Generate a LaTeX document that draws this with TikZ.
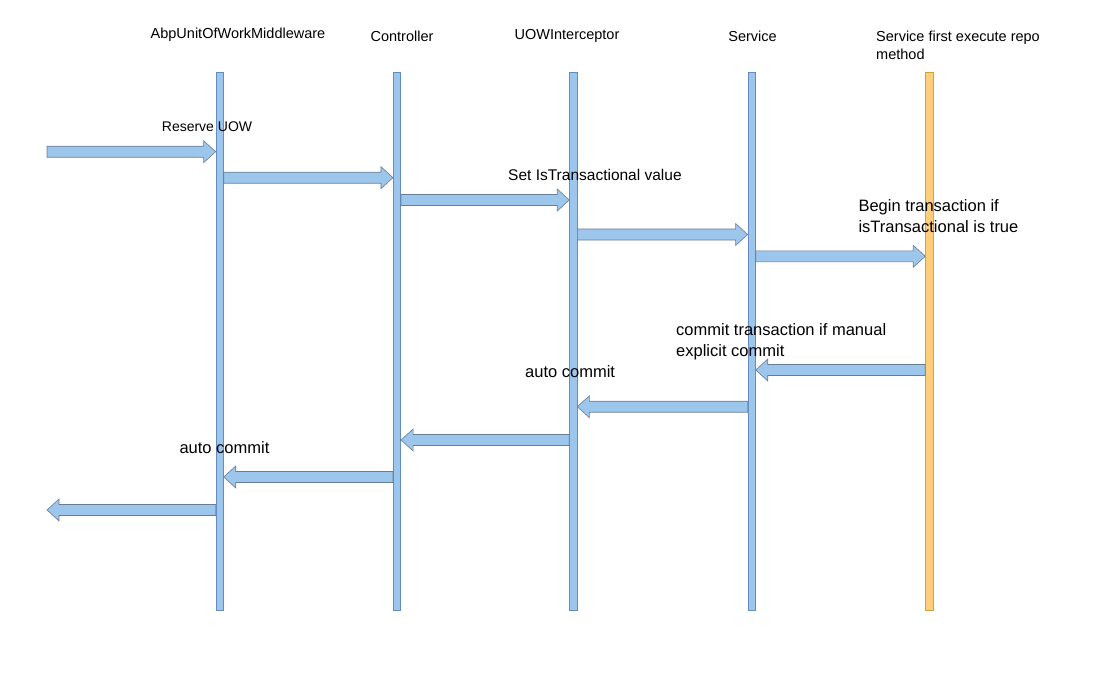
\documentclass[tikz,border=0pt]{standalone}
\usepackage{fontspec}
\setmainfont{Liberation Sans}
\usepackage{tikz}
\usetikzlibrary{calc}
\definecolor{lifeblue}{RGB}{157,198,236}
\definecolor{lifeedge}{RGB}{100,140,190}
\definecolor{arrowedge}{RGB}{105,125,145}
\definecolor{repofill}{RGB}{255,206,122}
\definecolor{repoedge}{RGB}{214,160,60}
\tikzstyle{lifeline}=[
	rectangle,
	draw=lifeedge,
	fill=lifeblue,
	line width=0.6pt,
	inner sep=0pt,
	minimum width=7.5pt,
	minimum height=538pt
]
\tikzstyle{repoline}=[
	lifeline,
	draw=repoedge,
	fill=repofill
]
\tikzstyle{msg}=[
	draw=arrowedge,
	fill=lifeblue,
	line width=0.6pt,
	line join=miter
]
\tikzstyle{head}=[
	inner sep=0pt,
	font=\fontsize{14.5pt}{18pt}\selectfont
]
\tikzstyle{lab}=[
	inner sep=0pt,
	anchor=west,
	align=left,
	font=\fontsize{15.5pt}{21.7pt}\selectfont
]
\newcommand{\blockarrow}[2]{%
	\path #1 coordinate (ta) #2 coordinate (tb) ($(tb)!12pt!(ta)$) coordinate (th);
	\draw[msg] ($(ta)+(0,5.5pt)$) -- ($(th)+(0,5.5pt)$) -- ($(th)+(0,11pt)$) -- (tb)
		-- ($(th)+(0,-11pt)$) -- ($(th)+(0,-5.5pt)$) -- ($(ta)+(0,-5.5pt)$) -- cycle;}

\begin{document}
\begin{tikzpicture}[x=1pt, y=-1pt]
\useasboundingbox (0,0) rectangle (1112,689);

\foreach \x/\lab in {219.7/mw, 397/ctl, 573.3/uow, 751.7/svc}{
    \node[lifeline] at (\x, 341.3) (\lab) {};
}
\node[repoline] at (929.3, 341.3) (repo) {};

\node[head] at (238, 35) (hmw) {AbpUnitOfWorkMiddleware};
\node[head] at (402, 36) (hctl) {Controller};
\node[head] at (567, 36) (huow) {UOWInterceptor};
\node[head] at (752.5, 36) (hsvc) {Service};
\node[head, anchor=west, align=left] at (876, 45) (hrepo) {Service first execute repo\\method};

\coordinate (in) at (47, 151.7);
\coordinate (out) at (47, 510);

% requests
\blockarrow{(in)}{(mw.west |- in)}
\foreach \a/\b/\y in {mw.east/ctl.west/177.7, ctl.east/uow.west/200, uow.east/svc.west/234.5, svc.east/repo.west/256.3}{
    \blockarrow{(\a |- 0,\y)}{(\b |- 0,\y)}
}
% returns
\foreach \a/\b/\y in {repo.west/svc.east/370, svc.west/uow.east/406.7, uow.west/ctl.east/440, ctl.west/mw.east/477}{
    \blockarrow{(\a |- 0,\y)}{(\b |- 0,\y)}
}
\blockarrow{(mw.west |- out)}{(out)}

\node[lab, font=\fontsize{14pt}{18pt}\selectfont] at (161.7, 126.7) (lreserve) {Reserve UOW};
\node[lab] at (508, 175) (lset) {Set IsTransactional value};
\node[lab, font=\fontsize{16.5pt}{21.7pt}\selectfont] at (858.3, 216) (lbegin) {Begin transaction if\\isTransactional is true};
\node[lab, font=\fontsize{16.5pt}{21.7pt}\selectfont] at (676, 341.7) (lcommit) {commit transaction if manual\\explicit commit};
\node[lab, font=\fontsize{16.5pt}{21.7pt}\selectfont] at (525, 371.7) (lauto) {auto commit};
\node[lab, font=\fontsize{16.5pt}{21.7pt}\selectfont] at (179.3, 447.3) (lautomw) {auto commit};

\end{tikzpicture}
\end{document}
